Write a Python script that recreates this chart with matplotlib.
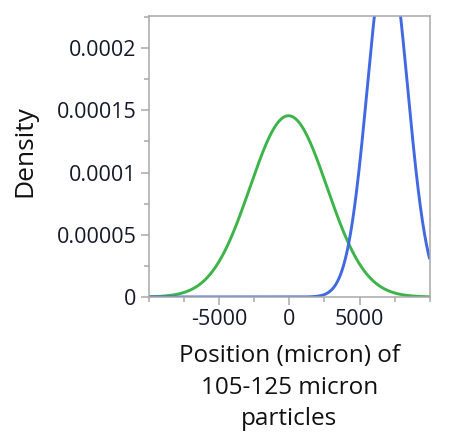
import matplotlib.pyplot as plt
import numpy as np
from matplotlib.ticker import FixedLocator, MultipleLocator

plt.rcParams['font.family'] = ['Open Sans', 'DejaVu Sans']

# fitted normal densities, position in micron
series = ['green', 'blue']
means = [-60, 6990]
sds = [2740, 1428]
colors = ['#3cb44a', '#4169e1']

yticks = [0, 0.00005, 0.0001, 0.00015, 0.0002]
ytick_labels = ['0', '0.00005', '0.0001', '0.00015', '0.0002']
xticks = [-5000, 0, 5000]
xtick_labels = ['-5000', '0', '5000']

fig = plt.figure(figsize=(4.73, 4.45), dpi=100)
ax = fig.add_axes([0.315, 0.3326, 0.5935, 0.6314])

x = np.linspace(-10000, 10000, 800)
for mu, sd, c in zip(means, sds, colors):
    pdf = np.exp(-0.5 * ((x - mu) / sd) ** 2) / (sd * np.sqrt(2 * np.pi))
    ax.plot(x, pdf, color=c, lw=2.1, solid_capstyle='butt')

ax.set_xlim(-10000, 10000)
ax.set_ylim(0, 0.0002257)

ax.yaxis.set_major_locator(FixedLocator(yticks))
ax.set_yticklabels(ytick_labels)
ax.yaxis.set_minor_locator(MultipleLocator(0.000025))
ax.xaxis.set_major_locator(FixedLocator(xticks))
ax.set_xticklabels(xtick_labels)
ax.xaxis.set_minor_locator(MultipleLocator(2500))

grey = '#a8a8a8'
for s in ax.spines.values():
    s.set_color(grey)
    s.set_linewidth(1.1)
ax.tick_params(which='major', length=6, width=1.1, color=grey,
               labelsize=15.5, labelcolor='#151a2a', pad=3)
ax.tick_params(which='minor', length=3.5, width=1.1, color=grey)

ax.set_ylabel('Density', fontsize=19, color='#111111', labelpad=14)
ax.yaxis.label.set_y(0.52)
ax.set_xlabel('Position (micron) of\n105-125 micron\nparticles', fontsize=17.5,
              color='#111111', linespacing=1.4, labelpad=10)

plt.savefig('out.png', dpi=100)
